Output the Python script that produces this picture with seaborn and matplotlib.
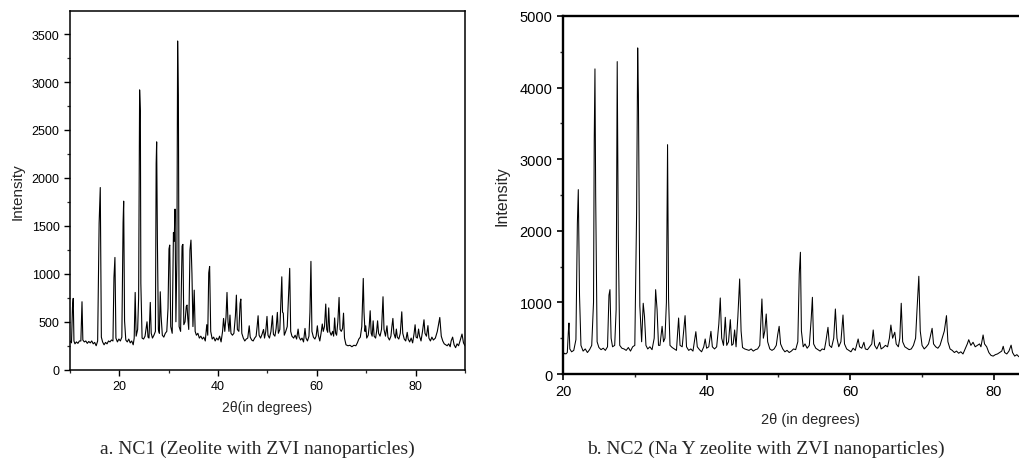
import matplotlib
matplotlib.use("Agg")
import matplotlib.pyplot as plt
import numpy as np
import pandas as pd
import seaborn as sns
from matplotlib.ticker import MultipleLocator

# -----------------------------
# XRD traces (2theta in degrees, intensity in counts)
# -----------------------------
nc1_theta = [
    10.0, 10.3, 10.5, 10.65, 10.8, 11.0, 11.3, 11.6, 11.9, 12.2, 12.43, 12.6, 12.9, 13.2, 13.5, 13.8,
    14.1, 14.4, 14.7, 15.0, 15.3, 15.6, 15.9, 16.13, 16.35, 16.6, 16.9, 17.2, 17.5, 17.8, 18.1, 18.4,
    18.7, 18.9, 19.1, 19.3, 19.6, 19.9, 20.2, 20.5, 20.75, 20.87, 21.05, 21.3, 21.6, 21.9, 22.2, 22.5,
    22.8, 23.0, 23.2, 23.4, 23.7, 23.9, 24.1, 24.25, 24.35, 24.6, 24.9, 25.2, 25.6, 25.8, 26.0, 26.26,
    26.45, 26.7, 27.0, 27.3, 27.45, 27.55, 27.7, 27.9, 28.1, 28.28, 28.45, 28.7, 29.0, 29.3, 29.6, 29.85,
    30.05, 30.2, 30.4, 30.7, 30.95, 31.1, 31.27, 31.45, 31.65, 31.8, 31.95, 32.1, 32.4, 32.7, 32.87, 33.05,
    33.3, 33.55, 33.7, 33.85, 34.05, 34.3, 34.5, 34.7, 34.9, 35.16, 35.35, 35.6, 35.9, 36.2, 36.5, 36.8,
    37.1, 37.4, 37.7, 37.9, 38.1, 38.28, 38.5, 38.8, 39.1, 39.4, 39.7, 40.0, 40.3, 40.6, 40.9, 41.1,
    41.35, 41.6, 41.8, 42.0, 42.2, 42.4, 42.6, 42.9, 43.2, 43.5, 43.7, 43.9, 44.2, 44.45, 44.6, 44.8,
    45.1, 45.4, 45.7, 46.0, 46.3, 46.5, 46.8, 47.1, 47.4, 47.7, 47.9, 48.1, 48.3, 48.6, 48.9, 49.2,
    49.4, 49.65, 49.9, 50.1, 50.4, 50.7, 51.0, 51.2, 51.5, 51.75, 52.0, 52.2, 52.5, 52.7, 52.9, 53.05,
    53.2, 53.4, 53.7, 54.0, 54.3, 54.5, 54.7, 54.95, 55.3, 55.6, 55.9, 56.2, 56.4, 56.7, 57.0, 57.3,
    57.6, 57.8, 58.1, 58.4, 58.6, 58.8, 59.0, 59.3, 59.6, 59.85, 60.1, 60.3, 60.6, 60.85, 61.1, 61.3,
    61.55, 61.8, 62.0, 62.2, 62.4, 62.6, 62.9, 63.2, 63.4, 63.6, 63.8, 64.0, 64.25, 64.5, 64.7, 64.95,
    65.2, 65.4, 65.6, 65.9, 66.3, 66.7, 67.1, 67.5, 67.9, 68.2, 68.5, 68.8, 69.1, 69.4, 69.55, 69.75,
    69.9, 70.1, 70.4, 70.6, 70.8, 71.0, 71.2, 71.4, 71.6, 71.9, 72.1, 72.3, 72.5, 72.8, 73.1, 73.4,
    73.6, 73.9, 74.2, 74.4, 74.7, 75.0, 75.2, 75.4, 75.6, 75.9, 76.1, 76.3, 76.6, 76.9, 77.2, 77.4,
    77.7, 78.0, 78.3, 78.5, 78.8, 79.1, 79.4, 79.7, 79.9, 80.1, 80.35, 80.6, 80.8, 81.1, 81.4, 81.7,
    81.9, 82.2, 82.5, 82.7, 83.0, 83.3, 83.6, 84.0, 84.4, 84.9, 85.2, 85.5, 85.8, 86.1, 86.4, 86.7,
    87.0, 87.2, 87.5, 87.8, 88.1, 88.4, 88.7, 89.0, 89.4, 89.7, 90.0,
]
nc1_counts = [
    300, 280, 650, 744, 300, 270, 290, 275, 300, 300, 709, 310, 290, 300, 275, 295,
    280, 300, 270, 285, 250, 300, 1530, 1900, 340, 290, 260, 285, 270, 300, 290, 310,
    300, 960, 1171, 330, 290, 320, 300, 340, 1530, 1758, 510, 310, 290, 320, 280, 300,
    260, 330, 806, 350, 420, 750, 2918, 2700, 900, 330, 320, 350, 500, 340, 330, 702,
    380, 330, 360, 400, 2150, 2376, 1350, 420, 380, 813, 560, 360, 340, 380, 400, 640,
    1260, 1300, 450, 380, 1430, 1340, 1675, 500, 1150, 3428, 2860, 450, 400, 1290, 1307, 470,
    500, 660, 674, 540, 420, 1250, 1352, 1000, 450, 830, 400, 360, 380, 330, 350, 320,
    340, 300, 470, 360, 1010, 1077, 400, 320, 340, 300, 330, 310, 350, 290, 400, 535,
    400, 550, 806, 500, 400, 570, 380, 360, 380, 560, 778, 420, 400, 690, 737, 380,
    330, 300, 320, 330, 458, 340, 310, 300, 330, 350, 450, 563, 360, 330, 370, 420,
    330, 400, 556, 360, 330, 400, 563, 370, 350, 430, 598, 380, 420, 700, 969, 600,
    590, 360, 400, 450, 800, 1057, 400, 350, 330, 360, 320, 424, 340, 310, 330, 290,
    431, 330, 300, 350, 600, 1130, 400, 340, 320, 350, 458, 360, 300, 380, 477, 400,
    450, 685, 420, 390, 645, 400, 360, 400, 350, 540, 380, 360, 500, 754, 420, 400,
    430, 590, 330, 260, 250, 255, 240, 255, 250, 280, 320, 340, 450, 952, 600, 400,
    458, 330, 360, 450, 615, 380, 350, 510, 350, 330, 400, 510, 380, 350, 420, 761,
    420, 350, 458, 340, 310, 350, 450, 535, 380, 330, 424, 340, 320, 380, 604, 380,
    320, 300, 390, 320, 290, 330, 280, 380, 469, 340, 330, 424, 350, 300, 400, 521,
    380, 350, 460, 330, 300, 340, 310, 330, 400, 545, 350, 300, 270, 260, 250, 270,
    240, 300, 340, 260, 230, 270, 250, 300, 372, 280, 250,
]

nc2_theta = [
    20.0, 20.2, 20.4, 20.6, 20.75, 20.83, 20.95, 21.2, 21.5, 21.8, 22.0, 22.13, 22.3, 22.5, 22.8, 23.1,
    23.4, 23.7, 24.0, 24.25, 24.35, 24.45, 24.55, 24.75, 25.0, 25.3, 25.6, 25.9, 26.2, 26.4, 26.54, 26.7,
    26.9, 27.2, 27.4, 27.55, 27.7, 27.9, 28.2, 28.5, 28.8, 29.1, 29.4, 29.7, 30.0, 30.25, 30.4, 30.5,
    30.7, 30.95, 31.17, 31.35, 31.55, 31.8, 32.1, 32.4, 32.7, 32.9, 33.1, 33.3, 33.5, 33.8, 34.0, 34.2,
    34.4, 34.56, 34.7, 34.9, 35.2, 35.5, 35.8, 36.1, 36.3, 36.6, 37.0, 37.2, 37.5, 37.8, 38.1, 38.5,
    38.7, 39.0, 39.3, 39.6, 39.8, 40.0, 40.3, 40.6, 40.8, 41.1, 41.4, 41.7, 41.9, 42.1, 42.35, 42.6,
    42.8, 43.05, 43.3, 43.5, 43.7, 43.9, 44.1, 44.35, 44.6, 44.8, 45.0, 45.3, 45.6, 45.9, 46.2, 46.5,
    46.8, 47.1, 47.4, 47.7, 47.9, 48.1, 48.3, 48.5, 48.8, 49.1, 49.4, 49.7, 49.9, 50.1, 50.3, 50.6,
    50.9, 51.2, 51.5, 51.8, 52.1, 52.4, 52.7, 52.9, 53.06, 53.2, 53.45, 53.7, 54.0, 54.3, 54.55, 54.73,
    54.9, 55.2, 55.5, 55.8, 56.1, 56.4, 56.6, 56.9, 57.1, 57.4, 57.7, 57.93, 58.15, 58.4, 58.7, 58.99,
    59.2, 59.5, 59.8, 60.1, 60.4, 60.7, 61.1, 61.3, 61.6, 61.9, 62.1, 62.4, 62.7, 63.0, 63.2, 63.4,
    63.7, 64.1, 64.3, 64.6, 64.9, 65.2, 65.45, 65.66, 65.9, 66.2, 66.4, 66.7, 66.9, 67.1, 67.3, 67.6,
    67.9, 68.2, 68.5, 68.8, 69.1, 69.3, 69.55, 69.75, 70.0, 70.3, 70.6, 70.9, 71.1, 71.4, 71.6, 71.9,
    72.2, 72.5, 72.8, 73.1, 73.4, 73.6, 73.9, 74.2, 74.5, 74.8, 75.1, 75.4, 75.7, 76.0, 76.3, 76.5,
    76.8, 77.1, 77.4, 77.7, 78.0, 78.2, 78.5, 78.7, 79.0, 79.3, 79.6, 79.9, 80.2, 80.5, 80.8, 81.1,
    81.3, 81.5, 81.8, 82.1, 82.4, 82.6, 82.9, 83.2, 83.5,
]
nc2_counts = [
    260, 290, 280, 300, 600, 712, 350, 310, 330, 480, 2100, 2575, 1100, 400, 320, 350,
    300, 340, 400, 1000, 3270, 4261, 2500, 450, 370, 340, 360, 330, 380, 1100, 1178, 500,
    380, 400, 900, 4363, 1900, 400, 360, 350, 330, 370, 320, 380, 400, 2250, 4554, 3900,
    950, 450, 988, 800, 400, 350, 380, 340, 500, 1178, 900, 400, 400, 666, 450, 500,
    1000, 3203, 1050, 400, 370, 350, 330, 782, 400, 380, 815, 380, 330, 350, 320, 591,
    380, 340, 310, 380, 489, 360, 380, 596, 380, 350, 380, 700, 1062, 500, 400, 792,
    400, 450, 759, 400, 420, 615, 380, 800, 1327, 600, 370, 350, 340, 330, 350, 320,
    340, 350, 400, 1048, 500, 600, 838, 450, 350, 330, 350, 400, 550, 666, 420, 350,
    310, 330, 300, 320, 350, 340, 450, 1400, 1700, 600, 380, 420, 360, 400, 750, 1071,
    420, 360, 340, 320, 350, 340, 450, 652, 400, 370, 500, 908, 500, 380, 450, 824,
    420, 350, 330, 310, 360, 330, 489, 380, 360, 443, 350, 340, 380, 420, 615, 400,
    350, 443, 350, 370, 400, 380, 500, 684, 500, 583, 420, 380, 500, 988, 450, 380,
    360, 340, 350, 400, 500, 900, 1365, 600, 400, 350, 380, 420, 500, 638, 420, 380,
    360, 400, 500, 600, 815, 450, 350, 330, 300, 320, 290, 310, 280, 350, 420, 479,
    400, 443, 380, 400, 420, 380, 545, 420, 380, 300, 260, 250, 270, 280, 300, 320,
    387, 300, 280, 320, 403, 300, 250, 270, 240,
]

captions = ["a. NC1 (Zeolite with ZVI nanoparticles)",
            "b. NC2 (Na Y zeolite with ZVI nanoparticles)"]
xlabels = ["2\u03b8(in degrees)", "2\u03b8 (in degrees)"]

# -----------------------------
# Figure
# -----------------------------
sns.set_style("ticks")
plt.rcParams['font.family'] = ['Liberation Sans', 'DejaVu Sans']

fig = plt.figure(figsize=(10.19, 4.64), dpi=100)
ax1 = fig.add_axes([0.0687, 0.2010, 0.3876, 0.7730])
ax2 = fig.add_axes([0.5525, 0.1918, 0.4475, 0.7716])

df1 = pd.DataFrame({"theta": nc1_theta, "counts": nc1_counts})
df2 = pd.DataFrame({"theta": nc2_theta, "counts": nc2_counts})

sns.lineplot(data=df1, x="theta", y="counts", ax=ax1, color="black",
             linewidth=0.8, estimator=None, sort=False)
sns.lineplot(data=df2, x="theta", y="counts", ax=ax2, color="black",
             linewidth=0.75, estimator=None, sort=False)

# left panel: full box
ax1.set_xlim(10, 90)
ax1.set_ylim(0, 3740)
ax1.xaxis.set_major_locator(MultipleLocator(20))
ax1.xaxis.set_minor_locator(MultipleLocator(10))
ax1.yaxis.set_major_locator(MultipleLocator(500))
ax1.yaxis.set_minor_locator(MultipleLocator(250))
for s in ax1.spines.values():
    s.set_linewidth(1.1)
    s.set_color("black")

# right panel: box runs off the right edge
ax2.set_xlim(20, 83.5)
ax2.set_ylim(0, 5000)
ax2.xaxis.set_major_locator(MultipleLocator(20))
ax2.xaxis.set_minor_locator(MultipleLocator(10))
ax2.yaxis.set_major_locator(MultipleLocator(1000))
ax2.yaxis.set_minor_locator(MultipleLocator(500))
ax2.spines["right"].set_visible(False)
for s in ["left", "bottom", "top"]:
    ax2.spines[s].set_linewidth(1.7)
    ax2.spines[s].set_color("black")

ax1.tick_params(which="major", direction="out", length=4, width=1, labelsize=9, colors="black")
ax1.tick_params(which="minor", direction="out", length=2.5, width=0.9)
ax2.tick_params(which="major", direction="out", length=4, width=1.2, labelsize=10.5, colors="black")
ax2.tick_params(which="minor", direction="out", length=2.5, width=1.0)

ax1.set_xlabel(xlabels[0], fontsize=10, labelpad=6)
ax1.set_ylabel("Intensity", fontsize=11, labelpad=5)
ax2.set_xlabel(xlabels[1], fontsize=10.5)
ax2.set_ylabel("Intensity", fontsize=11.5)
ax2.xaxis.set_label_coords(0.543, -0.105)
ax2.yaxis.set_label_coords(-0.117, 0.5)

fig.text(0.253, 0.012, captions[0], ha="center", va="bottom", fontsize=14,
         family=["Liberation Serif", "DejaVu Serif"])
fig.text(0.752, 0.012, captions[1], ha="center", va="bottom", fontsize=14,
         family=["Liberation Serif", "DejaVu Serif"])

fig.savefig("out.png", dpi=100)
